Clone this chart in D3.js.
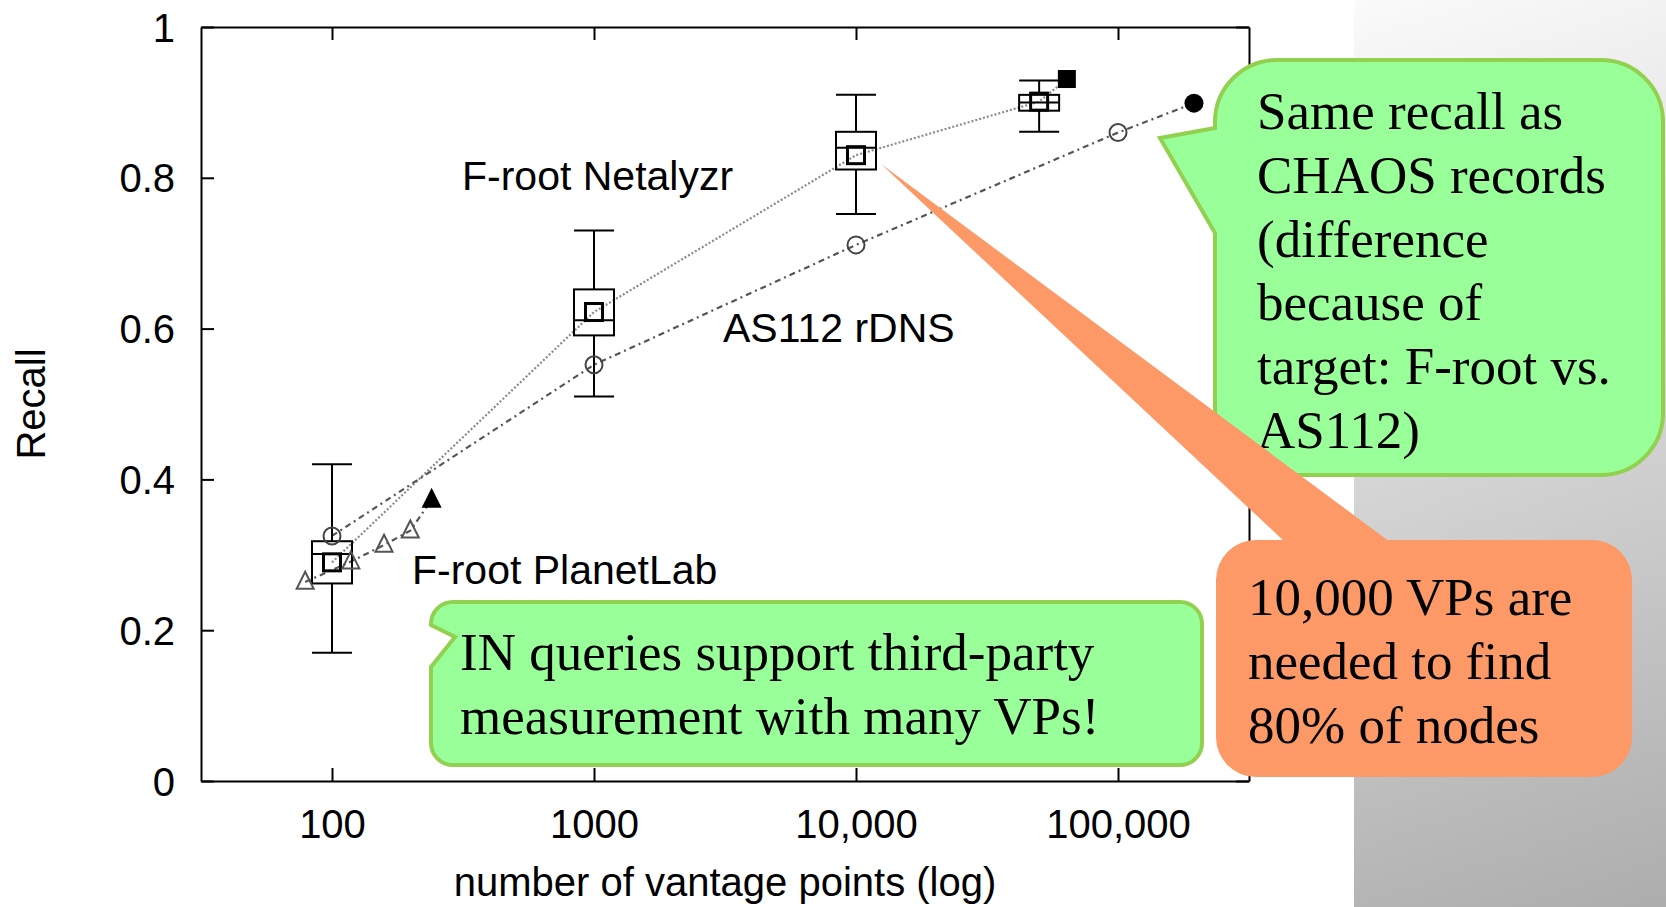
<!DOCTYPE html>
<html>
<head>
<meta charset="utf-8">
<script src="https://cdn.jsdelivr.net/npm/d3@7"></script>
<style>
  html, body { margin: 0; padding: 0; background: #fff; }
  svg { display: block; }
</style>
</head>
<body>
<svg id="chart" width="1666" height="907"></svg>
<script>
// ---------------- data ----------------
const xTickValues = [100, 1000, 10000, 100000];
const xTickLabels = ["100", "1000", "10,000", "100,000"];
const yTickValues = [0, 0.2, 0.4, 0.6, 0.8, 1];
const yTickLabels = ["0", "0.2", "0.4", "0.6", "0.8", "1"];

// F-root Netalyzr box plots
const boxX    = [100, 1000, 10000, 50000];
const boxLow  = [0.170, 0.510, 0.752, 0.861];
const boxQ1   = [0.262, 0.591, 0.811, 0.889];
const boxMed  = [0.301, 0.611, 0.840, 0.900];
const boxQ3   = [0.318, 0.652, 0.861, 0.910];
const boxHigh = [0.420, 0.730, 0.910, 0.929];
const netX    = [100, 1000, 10000, 50000];
const netY    = [0.290, 0.622, 0.830, 0.901];
const netEndX = 63800, netEndY = 0.931;

// AS112 rDNS
const asX = [100, 1000, 10000, 100000];
const asY = [0.325, 0.552, 0.711, 0.860];
const asEndX = 195000, asEndY = 0.899;

// F-root PlanetLab
const plX = [79, 118, 158, 199];
const plY = [0.264, 0.291, 0.313, 0.332];
const plEndX = 240, plEndY = 0.373;

const seriesLabels = ["F-root Netalyzr", "AS112 rDNS", "F-root PlanetLab"];
const xTitle = "number of vantage points (log)";
const yTitle = "Recall";

const noteTopRight = ["Same recall as", "CHAOS records", "(difference", "because of", "target: F-root vs.", "AS112)"];
const noteBottom = ["IN queries support third-party", "measurement with many VPs!"];
const noteOrange = ["10,000 VPs are", "needed to find", "80% of nodes"];

// ---------------- layout ----------------
const svg = d3.select("#chart");
const L = 201, R = 1249, T = 27, B = 781;
const sans = "'Liberation Sans', Arial, Helvetica, sans-serif";
const serif = "'Liberation Serif', 'Times New Roman', serif";

const x = d3.scaleLog().domain([Math.pow(10, 1.5), Math.pow(10, 5.5)]).range([L, R]);
const y = d3.scaleLinear().domain([0, 1]).range([B, T]);

// background (slide gradient + white chart image)
const defs = svg.append("defs");
const grad = defs.append("linearGradient").attr("id", "bg")
  .attr("gradientUnits", "userSpaceOnUse")
  .attr("x1", 1354).attr("y1", -60).attr("x2", 1666).attr("y2", 907);
grad.append("stop").attr("offset", 0).attr("stop-color", "#ffffff");
grad.append("stop").attr("offset", 1).attr("stop-color", "#adadad");
svg.append("rect").attr("width", 1666).attr("height", 907).attr("fill", "url(#bg)");
svg.append("rect").attr("width", 1354).attr("height", 907).attr("fill", "#ffffff");

// axes
const tickLen = 13;
const axisStyle = g => {
  g.selectAll("path.domain").attr("stroke", "#000").attr("stroke-width", 2);
  g.selectAll(".tick line").attr("stroke", "#000").attr("stroke-width", 2);
  g.selectAll(".tick text").attr("fill", "#000").style("font-family", sans).style("font-size", "40px");
};
svg.append("g").attr("transform", `translate(0,${B})`)
  .call(d3.axisBottom(x).tickValues(xTickValues).tickFormat((d, i) => xTickLabels[i])
    .tickSize(-tickLen).tickSizeOuter(0).tickPadding(29))
  .call(axisStyle);
svg.append("g").attr("transform", `translate(0,${T})`)
  .call(d3.axisTop(x).tickValues(xTickValues).tickFormat("").tickSize(-tickLen).tickSizeOuter(0))
  .call(axisStyle);
svg.append("g").attr("transform", `translate(${L},0)`)
  .call(d3.axisLeft(y).tickValues(yTickValues).tickFormat((d, i) => yTickLabels[i])
    .tickSize(-tickLen).tickSizeOuter(0).tickPadding(26))
  .call(axisStyle)
  .selectAll(".tick text").attr("dy", "0.35em");
svg.append("g").attr("transform", `translate(${R},0)`)
  .call(d3.axisRight(y).tickValues(yTickValues).tickFormat("").tickSize(-tickLen).tickSizeOuter(0))
  .call(axisStyle);

// axis titles
svg.append("text").attr("x", (L + R) / 2).attr("y", 896).attr("text-anchor", "middle")
  .style("font-family", sans).style("font-size", "40px").text(xTitle);
svg.append("text").attr("transform", `translate(45,${(T + B) / 2}) rotate(-90)`).attr("text-anchor", "middle")
  .style("font-family", sans).style("font-size", "40px").text(yTitle);

// lines
const line = d3.line().x(d => x(d[0])).y(d => y(d[1]));
const netPts = netX.map((v, i) => [v, netY[i]]).concat([[netEndX, netEndY]]);
const asPts = asX.map((v, i) => [v, asY[i]]).concat([[asEndX, asEndY]]);
const plPts = plX.map((v, i) => [v, plY[i]]).concat([[plEndX, plEndY]]);

svg.append("path").attr("d", line(netPts)).attr("fill", "none")
  .attr("stroke", "#8a8a8a").attr("stroke-width", 2.2).attr("stroke-dasharray", "2,2");
svg.append("path").attr("d", line(asPts)).attr("fill", "none")
  .attr("stroke", "#555").attr("stroke-width", 2.2).attr("stroke-dasharray", "6,4,2,4");
svg.append("path").attr("d", line(plPts)).attr("fill", "none")
  .attr("stroke", "#555").attr("stroke-width", 2.2).attr("stroke-dasharray", "6,4,2,4");

// box plots
const bw = 40;
const boxes = svg.append("g").attr("stroke", "#000").attr("stroke-width", 2).attr("fill", "none");
boxX.forEach((bx, i) => {
  const cx = x(bx);
  boxes.append("line").attr("x1", cx).attr("x2", cx).attr("y1", y(boxHigh[i])).attr("y2", y(boxQ3[i]));
  boxes.append("line").attr("x1", cx).attr("x2", cx).attr("y1", y(boxQ1[i])).attr("y2", y(boxLow[i]));
  boxes.append("line").attr("x1", cx - bw / 2).attr("x2", cx + bw / 2).attr("y1", y(boxHigh[i])).attr("y2", y(boxHigh[i]));
  boxes.append("line").attr("x1", cx - bw / 2).attr("x2", cx + bw / 2).attr("y1", y(boxLow[i])).attr("y2", y(boxLow[i]));
  boxes.append("rect").attr("x", cx - bw / 2).attr("y", y(boxQ3[i])).attr("width", bw).attr("height", y(boxQ1[i]) - y(boxQ3[i]));
  boxes.append("line").attr("x1", cx - bw / 2).attr("x2", cx + bw / 2).attr("y1", y(boxMed[i])).attr("y2", y(boxMed[i]));
});

// Netalyzr mean markers (open squares) and end (filled)
const sq = 17;
svg.append("g").selectAll("rect").data(netX.map((v, i) => [v, netY[i]])).join("rect")
  .attr("x", d => x(d[0]) - sq / 2).attr("y", d => y(d[1]) - sq / 2).attr("width", sq).attr("height", sq)
  .attr("fill", "none").attr("stroke", "#000").attr("stroke-width", 3);
svg.append("rect").attr("x", x(netEndX) - 9).attr("y", y(netEndY) - 9).attr("width", 18).attr("height", 18).attr("fill", "#000");

// AS112 circles
svg.append("g").selectAll("circle").data(asX.map((v, i) => [v, asY[i]])).join("circle")
  .attr("cx", d => x(d[0])).attr("cy", d => y(d[1])).attr("r", 8.5)
  .attr("fill", "none").attr("stroke", "#444").attr("stroke-width", 2);
svg.append("circle").attr("cx", x(asEndX)).attr("cy", y(asEndY)).attr("r", 9.5).attr("fill", "#000");

// PlanetLab triangles
const tri = (cx, cy, s) => `M${cx},${cy - s * 0.6}L${cx + s / 2},${cy + s * 0.4}L${cx - s / 2},${cy + s * 0.4}Z`;
svg.append("g").selectAll("path").data(plX.map((v, i) => [v, plY[i]])).join("path")
  .attr("d", d => tri(x(d[0]), y(d[1]), 17))
  .attr("fill", "none").attr("stroke", "#555").attr("stroke-width", 2);
svg.append("path").attr("d", tri(x(plEndX), y(plEndY), 20)).attr("fill", "#000");

// series labels
svg.append("text").attr("x", 462).attr("y", 190).style("font-family", sans).style("font-size", "41px").text(seriesLabels[0]);
svg.append("text").attr("x", 723).attr("y", 342).style("font-family", sans).style("font-size", "41px").text(seriesLabels[1]);
svg.append("text").attr("x", 412).attr("y", 584).style("font-family", sans).style("font-size", "41px").text(seriesLabels[2]);

// ---------------- callouts ----------------
const green = "#99FF99", greenStroke = "#92D050", orange = "#FC9966";

// top-right green callout
{
  const x0 = 1215, y0 = 60, x1 = 1663, y1 = 475, r = 62;
  const p = `M${x0 + r},${y0}H${x1 - r}A${r},${r} 0 0 1 ${x1},${y0 + r}V${y1 - r}A${r},${r} 0 0 1 ${x1 - r},${y1}` +
    `H${x0 + r}A${r},${r} 0 0 1 ${x0},${y1 - r}V233L1160,138L${x0},128V${y0 + r}A${r},${r} 0 0 1 ${x0 + r},${y0}Z`;
  svg.append("path").attr("d", p).attr("fill", green).attr("stroke", greenStroke).attr("stroke-width", 4);
  svg.append("g").selectAll("text").data(noteTopRight).join("text")
    .attr("x", 1257).attr("y", (d, i) => 129 + i * 63.8)
    .style("font-family", serif).style("font-size", "53px").text(d => d);
}

// bottom green callout
{
  const x0 = 431, y0 = 602, x1 = 1202, y1 = 765, r = 22;
  const p = `M${x0 + r},${y0}H${x1 - r}A${r},${r} 0 0 1 ${x1},${y0 + r}V${y1 - r}A${r},${r} 0 0 1 ${x1 - r},${y1}` +
    `H${x0 + r}A${r},${r} 0 0 1 ${x0},${y1 - r}V667L455,637L${x0},625V${y0 + r}A${r},${r} 0 0 1 ${x0 + r},${y0}Z`;
  svg.append("path").attr("d", p).attr("fill", green).attr("stroke", greenStroke).attr("stroke-width", 4);
  svg.append("g").selectAll("text").data(noteBottom).join("text")
    .attr("x", 460).attr("y", (d, i) => 670 + i * 64)
    .style("font-family", serif).style("font-size", "53px").text(d => d);
}

// orange callout
{
  svg.append("path").attr("d", "M881,164L1285,542L1390,542Z").attr("fill", orange);
  svg.append("rect").attr("x", 1216).attr("y", 540).attr("width", 416).attr("height", 237).attr("rx", 40)
    .attr("fill", orange);
  svg.append("g").selectAll("text").data(noteOrange).join("text")
    .attr("x", 1248).attr("y", (d, i) => 615 + i * 64)
    .style("font-family", serif).style("font-size", "53px").text(d => d);
}
</script>
</body>
</html>
